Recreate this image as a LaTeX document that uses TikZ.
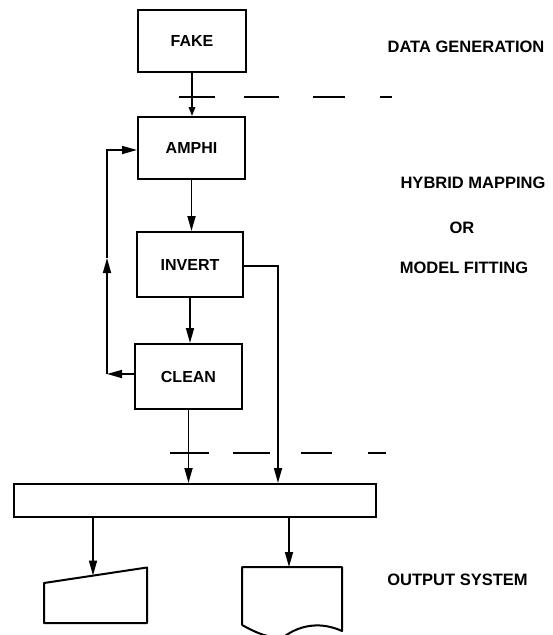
\documentclass[tikz,border=0pt]{standalone}
\usepackage{fontspec}
\setmainfont{Liberation Sans}
\usetikzlibrary{arrows.meta}
\begin{document}
\begin{tikzpicture}[x=1pt,y=-1pt,
  box/.style={draw, line width=2pt, inner sep=0pt, font=\fontsize{16}{19}\selectfont\bfseries},
  lbl/.style={font=\fontsize{16.5}{19}\selectfont\bfseries, inner sep=0pt},
  conn/.style={line width=1.7pt},
  arr/.style={conn, -{Triangle[length=15pt,width=8pt]}},
  dsh/.style={line width=1.7pt},
  outshape/.style={line width=2pt, line join=round}]
\useasboundingbox (0,0) rectangle (553,635);
% process boxes
\node[box, minimum width=108pt, minimum height=62pt] (fake)   at (192,41)    {FAKE};
\node[box, minimum width=107pt, minimum height=62pt] (amphi)  at (191.5,148) {AMPHI};
\node[box, minimum width=106pt, minimum height=65pt] (invert) at (190,264.5) {INVERT};
\node[box, minimum width=107pt, minimum height=65pt] (clean)  at (188.5,376.5) {CLEAN};
\node[box, minimum width=362pt, minimum height=33pt] (bar)    at (195,500.5) {};
% main chain
\draw[conn, -{Triangle[length=9pt,width=6.5pt]}] (fake.south) -- (fake.south |- amphi.north);
\draw[arr] (amphi.south) -- (amphi.south |- invert.north);
\draw[arr] (invert.south) -- (invert.south |- clean.north);
\draw[arr] (clean.south) -- (clean.south |- bar.north);
% feedback loop
\coordinate (fbL) at (107,374);
\coordinate (fbM) at (107,258);
\coordinate (fbT) at (107,150);
\draw[arr] (clean.west |- fbL) -- (fbL);
\draw[arr] (fbL) -- (fbM);
\draw[arr] (fbM) -- (fbT) -- (fbT -| amphi.west);
% invert to bar
\coordinate (invR) at (278,266);
\draw[arr] (invert.east |- invR) -- (invR) -- (invR |- bar.north);
% output devices
\coordinate (trapTop) at (93,575.5);
\coordinate (docTop) at (289,567);
\draw[outshape] (44,583) -- (147,567.5) -- (147,623) -- (44,623) -- cycle;
\draw[outshape] (242,625) -- (242,567) -- (342,567) -- (342,631)
   .. controls (322,622) and (302,624) .. (285,636)
   .. controls (270,640) and (255,632) .. (242,625);
\draw[arr] (bar.south -| trapTop) -- (trapTop);
\draw[arr] (bar.south -| docTop) -- (docTop);
% dashed separators
\draw[dsh] (179,97) -- (215,97);
\draw[dsh] (244,97) -- (279,97);
\draw[dsh] (313,97) -- (345,97);
\draw[dsh] (380,97) -- (392,97);
\draw[dsh] (170,453) -- (209,453);
\draw[dsh] (233,453) -- (270,453);
\draw[dsh] (301,453) -- (332,453);
\draw[dsh] (368,453) -- (386,453);
% side labels
\node[lbl] (lgen) at (466,47) {DATA GENERATION};
\node[lbl] (lhyb) at (473,183) {HYBRID MAPPING};
\node[lbl] (lor)  at (462,228) {OR};
\node[lbl] (lmod) at (464,268) {MODEL FITTING};
\node[lbl] (lout) at (457.5,580) {OUTPUT SYSTEM};
\end{tikzpicture}
\end{document}
